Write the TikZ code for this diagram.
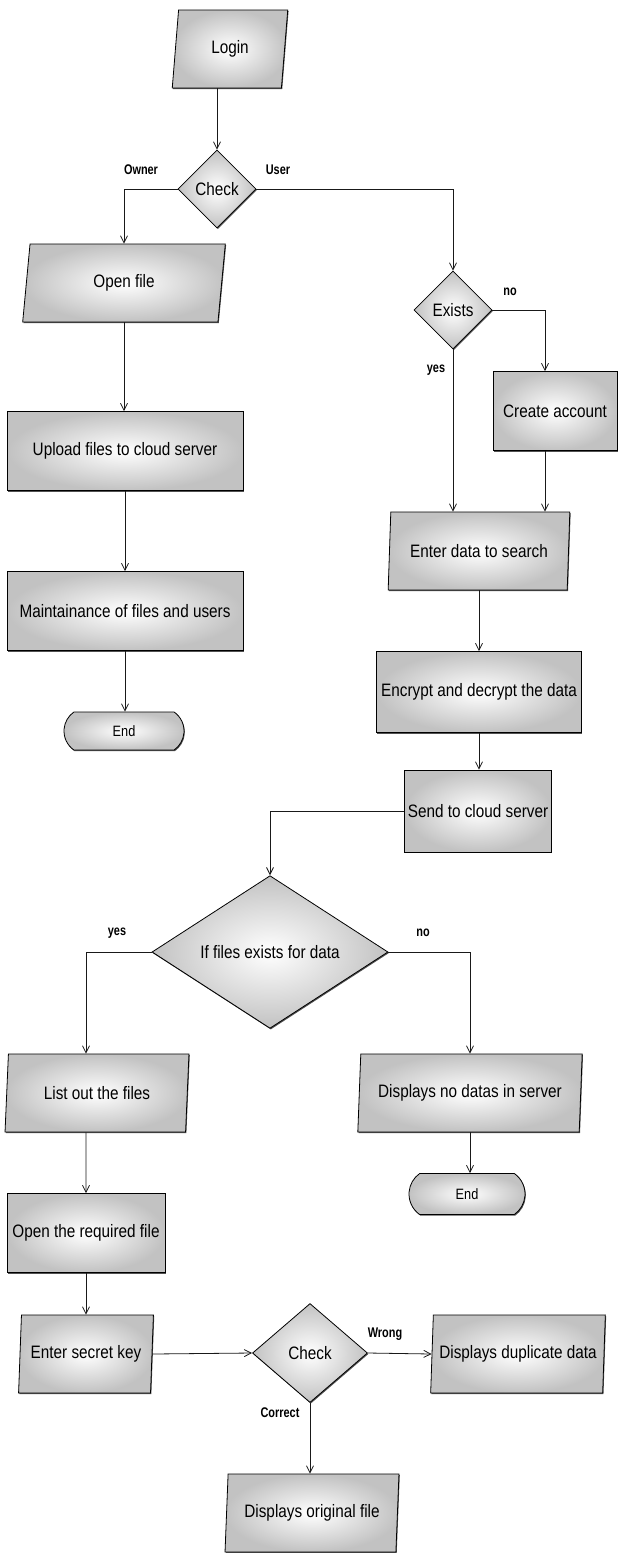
\documentclass[tikz,border=0pt]{standalone}
\usepackage{fontspec}
\setmainfont{Liberation Sans}[FakeStretch=0.85]
\newfontfamily\labelfont{Liberation Sans}[FakeStretch=0.78]
\usetikzlibrary{
	arrows.meta,
	shapes.geometric,
	shapes.misc,
	shadows
}
\tikzset{
  % arrow
	fcra/.style      ={-{Straight Barb[length=7pt,width=7pt]}, draw=black!90, line width=0.8pt},
  % node
	fcbase/.style    ={draw=black, line width=0.8pt, shading=radial, inner color=white, outer color=black!24,
	                   drop shadow={shadow xshift=0.8pt, shadow yshift=-1.2pt, fill=black!80, opacity=0.85},
	                   font=\fontsize{18}{20}\selectfont, inner sep=2pt, align=center},
	fcbox/.style     ={fcbase, rectangle, minimum height=79pt},
	fcio/.style      ={fcbase, trapezium, trapezium left angle=83, trapezium right angle=97,
	                   trapezium stretches=true, minimum height=78pt},
	fcdec/.style     ={fcbase, diamond, inner sep=0pt},
	fcend/.style     ={fcbase, rounded rectangle, rounded rectangle arc length=110, font=\fontsize{15}{17}\selectfont},
  % label
	fclabel/.style   ={font=\labelfont\bfseries\fontsize{14}{16}\selectfont, inner sep=1pt}
}
\begin{document}
\begin{tikzpicture}[x=1pt,y=-1pt]
	\useasboundingbox (0,0) rectangle (620,1553);
	% owner side
	\node[fcio, minimum width=116pt] (login) at (230,49) {Login};
	\node[fcdec, minimum width=78pt, minimum height=78pt] (chk1) at (217,189) {Check};
	\node[fclabel] (lowner) at (141,170) {Owner};
	\node[fclabel] (luser) at (278,170) {User};
	\node[fcio, minimum width=203pt] (ofile) at (124,283) {Open file};
	\node[fcbox, minimum width=236pt] (upload) at (125,451) {Upload files to cloud server};
	\node[fcbox, minimum width=236pt] (maint) at (125,611) {Maintainance of files and users};
	\node[fcend, minimum width=124pt, minimum height=38pt] (end1) at (124,731) {End};
	% user side
	\node[fcdec, minimum width=78pt, minimum height=78pt] (exists) at (453,310) {Exists};
	\node[fclabel] (lno1) at (510,292) {no};
	\node[fclabel] (lyes1) at (436,370) {yes};
	\node[fcbox, minimum width=124pt] (create) at (555,411) {Create account};
	\node[fcio, minimum width=182pt] (enter) at (479,551) {Enter data to search};
	\node[fcbox, minimum width=205pt, minimum height=81pt] (crypt) at (479,692) {Encrypt and decrypt the data};
	\node[fcbox, minimum width=147pt, minimum height=82pt] (send) at (478,811) {Send to cloud server};
	\node[fcdec, minimum width=236pt, minimum height=118pt] (iffile) at (270,952) {If files exists for data};
	\node[fclabel] (lyes2) at (117,933) {yes};
	\node[fclabel] (lno2) at (423,933) {no};
	\node[fcio, minimum width=184pt] (list) at (97,1093) {List out the files};
	\node[fcio, minimum width=225pt] (nodata) at (470,1093) {Displays no datas in server};
	\node[fcend, minimum width=120pt, minimum height=41pt] (end2) at (467,1194) {End};
	\node[fcbox, minimum width=158pt] (openreq) at (86,1233) {Open the required file};
	\node[fcio, minimum width=135pt] (secret) at (86,1354) {Enter secret key};
	\node[fcdec, minimum width=115pt, minimum height=99pt] (chk2) at (310,1353) {Check};
	\node[fclabel] (lwrong) at (385,1334) {Wrong};
	\node[fclabel] (lcorrect) at (280,1413) {Correct};
	\node[fcio, minimum width=175pt] (dup) at (518,1354) {Displays duplicate data};
	\node[fcio, minimum width=174pt] (orig) at (312,1513) {Displays original file};
	% connectors
	\draw[fcra] (login.south -| chk1.north) -- (chk1.north);
	\draw[fcra] (chk1.west) -| (ofile.north);
	\draw[fcra] (chk1.east) -| (exists.north);
	\draw[fcra] (ofile.south) -- (ofile.south |- upload.north);
	\draw[fcra] (upload.south) -- (upload.south |- maint.north);
	\draw[fcra] (maint.south) -- (maint.south |- end1.north);
	\draw[fcra] (exists.east) -| ([xshift=-10pt]create.north);
	\draw[fcra] (exists.south) -- (exists.south |- enter.north);
	\draw[fcra] ([xshift=-10pt]create.south) -- ([xshift=-10pt]create.south |- enter.north);
	\draw[fcra] (enter.south) -- (enter.south |- crypt.north);
	\draw[fcra] (crypt.south) -- (crypt.south |- send.north);
	\draw[fcra] (send.west) -| (iffile.north);
	\draw[fcra] (iffile.west) -| ([xshift=-11pt]list.north);
	\draw[fcra] (iffile.east) -| (nodata.north);
	\draw[fcra] (nodata.south) -- (nodata.south |- end2.north);
	\draw[fcra] ([xshift=-11pt]list.south) -- (openreq.north);
	\draw[fcra] (openreq.south) -- (openreq.south |- secret.north);
	\draw[fcra] (secret.east) -- (chk2.west);
	\draw[fcra] (chk2.east) -- (dup.west);
	\draw[fcra] (chk2.south) -- (chk2.south |- orig.north);
\end{tikzpicture}
\end{document}
